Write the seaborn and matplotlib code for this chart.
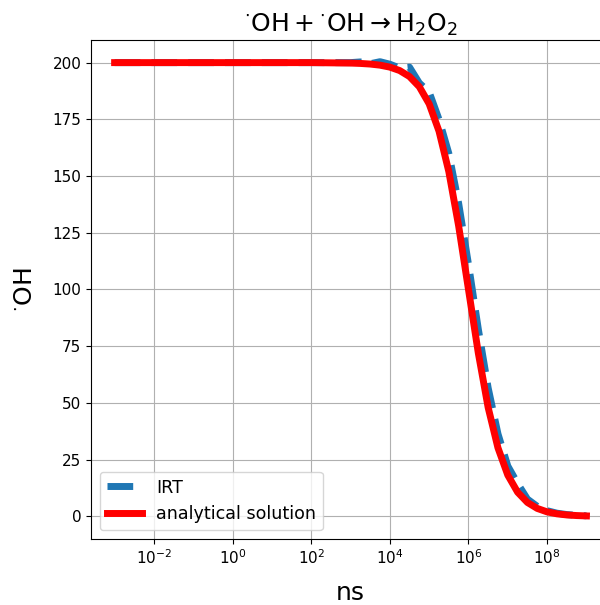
import matplotlib
matplotlib.use("Agg")
import matplotlib.pyplot as plt
import numpy as np
import pandas as pd
import seaborn as sns

# Time points (ns) and remaining OH radicals from the IRT simulation
irt_time = [1e-3, 1e-2, 1e-1, 1e0, 1e1, 1e2,
            1e3, 1.78e3, 3.16e3, 5.62e3, 1e4, 1.78e4, 3.16e4, 5.62e4,
            1e5, 1.78e5, 3.16e5, 5.62e5, 1e6, 1.78e6, 3.16e6, 5.62e6,
            1e7, 1.78e7, 3.16e7, 5.62e7, 1e8, 1.78e8, 3.16e8, 5.62e8, 1e9]
irt_oh = [200, 200, 200, 200, 200, 200,
          200, 200.3, 199.5, 200.4, 199.3, 197.6, 198.0, 191.0,
          187, 175, 160, 138, 111.1, 82.5, 56.7, 36.4,
          22.2, 14.5, 7.6, 4.4, 2.5, 1.4, 0.8, 0.45, 0.25]

# Analytical second-order decay at the same kind of time grid
ana_time = [1e-3, 1e-2, 1e-1, 1e0, 1e1, 1e2,
            1e3, 1.78e3, 3.16e3, 5.62e3, 1e4, 1.78e4, 3.16e4, 5.62e4,
            1e5, 1.78e5, 3.16e5, 5.62e5, 1e6, 1.78e6, 3.16e6, 5.62e6,
            1e7, 1.78e7, 3.16e7, 5.62e7, 1e8, 1.78e8, 3.16e8, 5.62e8, 1e9]
ana_oh = [200, 200, 200, 200, 200, 200,
          199.8, 199.64, 199.37, 198.88, 198.02, 196.50, 193.87, 189.36,
          181.82, 169.79, 151.98, 128.03, 100.0, 71.97, 48.03, 30.21,
          18.18, 10.64, 6.13, 3.50, 1.98, 1.12, 0.63, 0.36, 0.20]

irt = pd.DataFrame({"ns": irt_time, "OH": irt_oh})
ana = pd.DataFrame({"ns": ana_time, "OH": ana_oh})

plt.rcParams.update(matplotlib.rcParamsDefault)
fig = plt.figure(figsize=(6.0, 6.05), dpi=100)
ax = fig.add_axes([0.1517, 0.109, 0.865, 0.825])

sns.lineplot(data=irt, x="ns", y="OH", ax=ax, color="#1f77b4", lw=5,
             linestyle="--", label="IRT")
sns.lineplot(data=ana, x="ns", y="OH", ax=ax, color="red", lw=5,
             label="analytical solution")

ax.set_xscale("log")
ax.set_xticks([1e-2, 1e0, 1e2, 1e4, 1e6, 1e8])
ax.set_yticks([0, 25, 50, 75, 100, 125, 150, 175, 200])
ax.set_ylim(-10, 210)
ax.tick_params(labelsize=11)
ax.grid(True)
ax.set_xlabel("ns", fontsize=18, labelpad=10)
ax.set_ylabel(r"$^{\cdot}\mathrm{OH}$", fontsize=18, labelpad=11)
ax.set_title(r"$^{\cdot}\mathrm{OH} + ^{\cdot}\mathrm{OH} \rightarrow \mathrm{H_2O_2}$",
             fontsize=18)
ax.legend(loc="lower left", fontsize=12.6)

fig.savefig("out.png", dpi=100)
